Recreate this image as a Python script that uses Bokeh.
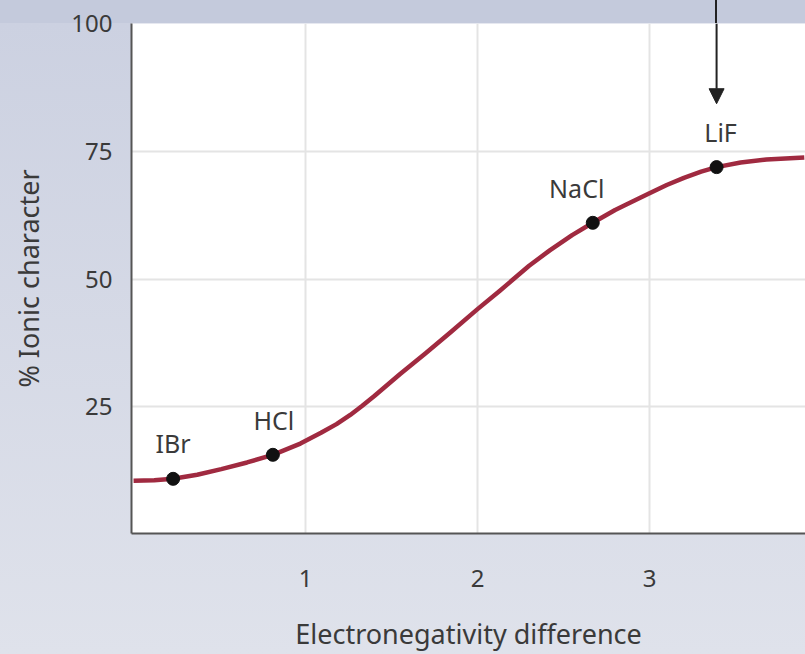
from bokeh.plotting import figure
from bokeh.models import (Arrow, NormalHead, FixedTicker, Range1d,
                          ColumnDataSource, Label)
from bokeh.embed import file_html
from bokeh.resources import INLINE

# ---- data ----
curve_x = [0.0, 0.12, 0.23, 0.37, 0.51, 0.66, 0.81, 0.97, 1.09, 1.18, 1.26,
           1.33, 1.4, 1.55, 1.7, 1.84, 2.0, 2.13, 2.3, 2.42, 2.55, 2.67, 2.8,
           2.91, 3.0, 3.1, 3.2, 3.3, 3.39, 3.53, 3.68, 3.9]
curve_y = [10.5, 10.6, 10.9, 11.7, 12.8, 14.1, 15.6, 17.8, 19.9, 21.6, 23.4,
           25.2, 27.1, 31.4, 35.5, 39.5, 44.1, 47.7, 52.6, 55.6, 58.6, 61.0,
           63.5, 65.3, 66.8, 68.4, 69.8, 71.0, 71.9, 72.8, 73.4, 73.8]

compounds = ["IBr", "HCl", "NaCl", "LiF"]
compound_x = [0.23, 0.81, 2.67, 3.39]
compound_y = [10.9, 15.6, 61.0, 71.9]

x_ticks = [1, 2, 3]
y_ticks = [25, 50, 75, 100]
x_label = "Electronegativity difference"
y_label = "% Ionic character"

# ---- styling ----
FONT = "Noto Sans"
BAND = "#c4cadc"
TEXT = "#3a3a3a"

p = figure(width=805, height=654, output_backend="svg", toolbar_location=None,
           x_range=Range1d(-0.012, 3.907), y_range=Range1d(0.2, 100),
           min_border_left=131, min_border_right=0, min_border_top=23,
           min_border_bottom=121)
p.background_fill_color = "white"
p.border_fill_alpha = 0
p.outline_line_color = None
# page background: darker band on top (with the arrow's tail) and a soft gradient below
p.styles = {
    "background": (
        "linear-gradient(to right, transparent 715px, #222 715px, #222 717px, transparent 717px)"
        " 0 0 / 100% 23px no-repeat, "
        f"linear-gradient(to bottom, {BAND} 0px, {BAND} 23px, #ccd1e1 23px, #dfe2eb 100%)"
    )
}

for ax in (p.xaxis[0], p.yaxis[0]):
    ax.axis_line_color = "#555555"
    ax.axis_line_width = 2
    ax.major_tick_line_color = None
    ax.minor_tick_line_color = None
    ax.major_label_text_font = FONT
    ax.major_label_text_font_size = "24px"
    ax.major_label_text_color = TEXT
    ax.axis_label_text_font = FONT
    ax.axis_label_text_font_size = "27px"
    ax.axis_label_text_font_style = "normal"
    ax.axis_label_text_color = TEXT

p.xaxis.ticker = FixedTicker(ticks=x_ticks)
p.yaxis.ticker = FixedTicker(ticks=y_ticks)
p.xaxis.axis_label = x_label
p.yaxis.axis_label = y_label
p.xaxis.major_label_standoff = 30
p.xaxis.axis_label_standoff = 25
p.yaxis.major_label_standoff = 13
p.yaxis.axis_label_standoff = 21

p.xgrid.ticker = FixedTicker(ticks=x_ticks)
p.ygrid.ticker = FixedTicker(ticks=[25, 50, 75])
for g in (p.xgrid[0], p.ygrid[0]):
    g.grid_line_color = "#e4e4e4"
    g.grid_line_width = 2

# curve
p.line(curve_x, curve_y, line_color="#a02a40", line_width=4.5, line_join="round")

src = ColumnDataSource(dict(x=compound_x, y=compound_y, name=compounds))
p.scatter("x", "y", source=src, size=13, fill_color="#111111", line_color="#111111")

label_offsets = [(0, 36), (1, 35), (-16, 35), (4, 35)]
for name, xx, yy, (dx, dy) in zip(compounds, compound_x, compound_y, label_offsets):
    p.add_layout(Label(x=xx, y=yy, text=name, x_offset=dx, y_offset=dy,
                       text_align="center", text_baseline="middle",
                       text_font=FONT, text_font_size="25px", text_color=TEXT))

# arrow pointing at LiF (its tail continues through the top band)
p.add_layout(Arrow(x_start=compound_x[3], y_start=100, x_end=compound_x[3], y_end=84.3,
                   line_color="#222222", line_width=2,
                   end=NormalHead(size=15, fill_color="#222222", line_color="#222222")))

open("out.html", "w").write(file_html(p, INLINE))
